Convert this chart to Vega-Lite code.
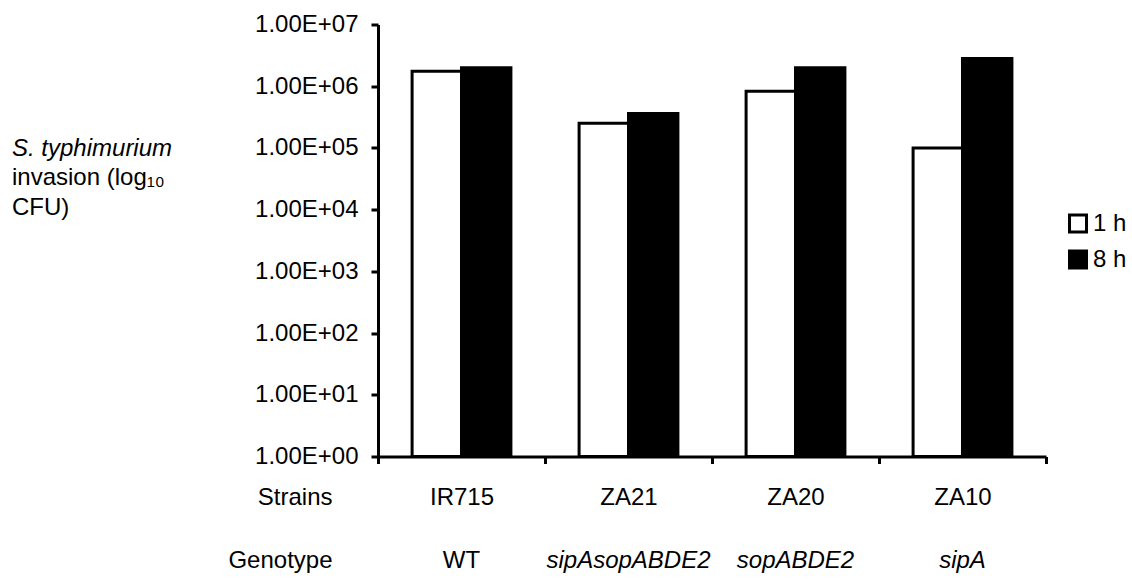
{
  "$schema": "https://vega.github.io/schema/vega-lite/v6.json",
  "width": 668,
  "height": 432,
  "autosize": {"type": "none"},
  "padding": {"left": 378, "top": 24.5, "right": 86, "bottom": 123.5},
  "background": "white",
  "config": {
    "font": "Liberation Sans",
    "view": {"stroke": null},
    "axis": {
      "labelFont": "Liberation Sans",
      "titleFont": "Liberation Sans",
      "labelColor": "black",
      "titleColor": "black",
      "domainColor": "black",
      "tickColor": "black",
      "grid": false
    },
    "legend": {"labelFont": "Liberation Sans", "labelColor": "black"}
  },
  "title": {
    "text": "S. typhimurium",
    "subtitle": ["invasion (log₁₀", "CFU)"],
    "anchor": "start",
    "frame": "group",
    "orient": "top",
    "dx": -366,
    "dy": 211,
    "font": "Liberation Sans",
    "fontSize": 24,
    "fontStyle": "italic",
    "fontWeight": "normal",
    "color": "black",
    "subtitleFont": "Liberation Sans",
    "subtitleFontSize": 24,
    "subtitleFontStyle": "normal",
    "subtitleColor": "black",
    "subtitleLineHeight": 30,
    "subtitlePadding": 5
  },
  "data": {
    "values": [
      {"strain": "IR715", "genotype": "WT", "time": "1 h", "cfu": 1750000},
      {"strain": "IR715", "genotype": "WT", "time": "8 h", "cfu": 2000000},
      {"strain": "ZA21", "genotype": "sipAsopABDE2", "time": "1 h", "cfu": 250000},
      {"strain": "ZA21", "genotype": "sipAsopABDE2", "time": "8 h", "cfu": 360000},
      {"strain": "ZA20", "genotype": "sopABDE2", "time": "1 h", "cfu": 830000},
      {"strain": "ZA20", "genotype": "sopABDE2", "time": "8 h", "cfu": 2000000},
      {"strain": "ZA10", "genotype": "sipA", "time": "1 h", "cfu": 100000},
      {"strain": "ZA10", "genotype": "sipA", "time": "8 h", "cfu": 2800000}
    ]
  },
  "encoding": {
    "y": {
      "field": "cfu",
      "type": "quantitative",
      "scale": {"type": "log", "domain": [1, 10000000], "nice": false},
      "axis": {
        "values": [1, 10, 100, 1000, 10000, 100000, 1000000, 10000000],
        "labelExpr": "'1.00E+' + (round(log(datum.value) / LN10) < 10 ? '0' : '') + round(log(datum.value) / LN10)",
        "labelFontSize": 24,
        "labelPadding": 13,
        "tickSize": 7,
        "tickWidth": 3,
        "domainWidth": 3,
        "title": null
      }
    },
    "y2": {"datum": 1},
    "xOffset": {
      "field": "time",
      "type": "nominal",
      "scale": {"domain": ["1 h", "8 h"], "paddingInner": 0, "paddingOuter": 0.69}
    },
    "fill": {
      "field": "time",
      "type": "nominal",
      "scale": {"domain": ["1 h", "8 h"], "range": ["white", "black"]},
      "legend": {
        "title": null,
        "orient": "none",
        "legendX": 688,
        "legendY": 187,
        "padding": 0,
        "symbolType": "square",
        "symbolSize": 289,
        "symbolStrokeColor": "black",
        "symbolStrokeWidth": 3,
        "symbolOpacity": 1,
        "labelFontSize": 24,
        "labelOffset": 3,
        "rowPadding": 6
      }
    }
  },
  "layer": [
    {
      "transform": [{"filter": "datum.time == '1 h'"}],
      "mark": {"type": "bar", "stroke": "black", "strokeWidth": 3},
      "encoding": {
        "x": {
          "field": "strain",
          "type": "nominal",
          "sort": null,
          "scale": {"paddingInner": 0, "paddingOuter": 0},
          "axis": {
            "orient": "bottom",
            "tickBand": "extent",
            "labelAngle": 0,
            "labelFontSize": 24,
            "labelBaseline": "alphabetic",
            "labelPadding": 41,
            "tickSize": 7,
            "tickWidth": 3,
            "domainWidth": 3,
            "title": "Strains",
            "titleFontSize": 24,
            "titleFontWeight": "normal",
            "titleAngle": 0,
            "titleAlign": "right",
            "titleBaseline": "alphabetic",
            "titleX": -46,
            "titleY": 48
          }
        }
      }
    },
    {
      "transform": [{"filter": "datum.time == '8 h'"}],
      "mark": {"type": "bar", "stroke": "black", "strokeWidth": 3},
      "encoding": {
        "x": {
          "field": "genotype",
          "type": "nominal",
          "sort": null,
          "scale": {"paddingInner": 0, "paddingOuter": 0},
          "axis": {
            "orient": "bottom",
            "domain": false,
            "ticks": false,
            "tickSize": 0,
            "labelAngle": 0,
            "labelFontSize": 24,
            "labelBaseline": "alphabetic",
            "labelPadding": 111,
            "labelFontStyle": {"condition": {"test": "datum.value == 'WT'", "value": "normal"}, "value": "italic"},
            "title": "Genotype",
            "titleFontSize": 24,
            "titleFontWeight": "normal",
            "titleAngle": 0,
            "titleAlign": "right",
            "titleBaseline": "alphabetic",
            "titleX": -46,
            "titleY": 111
          }
        }
      }
    }
  ],
  "resolve": {"scale": {"x": "independent"}, "axis": {"x": "independent"}}
}
